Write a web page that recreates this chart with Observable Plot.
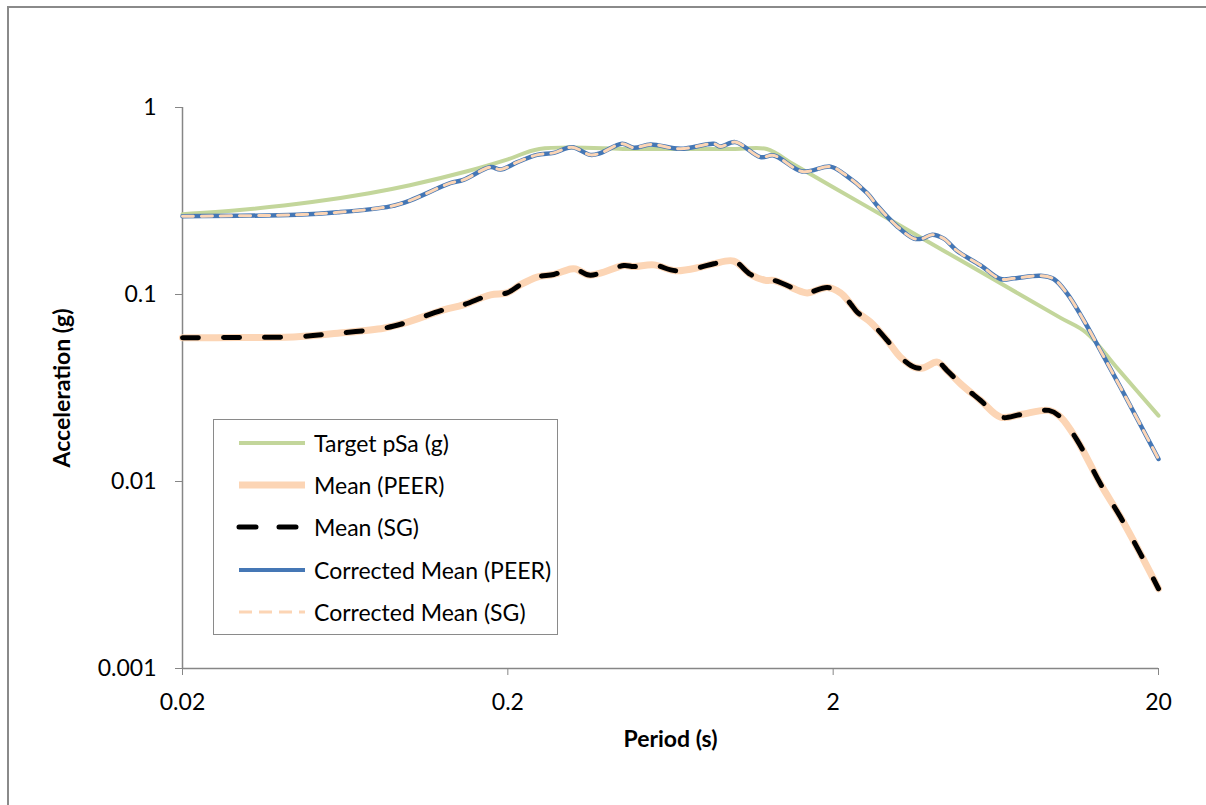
<!DOCTYPE html>
<html>
<head>
<meta charset="utf-8">
<script src="https://cdn.jsdelivr.net/npm/d3@7"></script>
<script src="https://cdn.jsdelivr.net/npm/@observablehq/plot@0.6"></script>
<style>
  html, body { margin: 0; padding: 0; background: #fff; overflow: hidden; }
  #wrap { position: relative; width: 1206px; height: 805px; font-family: Lato, "Open Sans", sans-serif; }
  #frame { position: absolute; left: 7px; top: 6px; width: 1300px; height: 900px; border-left: 2px solid #8a8a8a; border-top: 2px solid #8a8a8a; }
  #legend { position: absolute; left: 213px; top: 419px; width: 345px; height: 216px; border: 1.5px solid #8a8a8a; background: #fff; box-sizing: border-box; }
  .row { position: absolute; left: 22px; height: 30px; display: flex; align-items: center; }
  .row span { font-size: 23px; color: #000; margin-left: 6px; white-space: nowrap; }
  svg.sw { width: 72px; height: 12px; }
</style>
</head>
<body>
<div id="wrap">
  <div id="frame"></div>
  <div id="chart"></div>
  <div id="legend"></div>
</div>
<script>
// ---- Data ----
const targetPeriods = [0.02, 0.03, 0.05, 0.075, 0.1, 0.15, 0.2, 0.25, 0.5, 1.0, 1.25, 1.5, 2, 3, 4, 5, 7.5, 10, 12, 15, 20];
const targetPSa = [0.269, 0.283, 0.312, 0.348, 0.384, 0.456, 0.528, 0.6, 0.6, 0.6, 0.6, 0.5, 0.375, 0.25, 0.1875, 0.15, 0.1, 0.075, 0.0625, 0.04, 0.0225];

const meanPeriods = [0.02, 0.03, 0.045, 0.06, 0.083, 0.096, 0.127, 0.146, 0.177, 0.199, 0.219, 0.246, 0.277, 0.312, 0.323, 0.355, 0.385, 0.455, 0.488, 0.562, 0.655, 0.782, 0.859, 0.99, 1.114, 1.239, 1.314, 1.588, 1.665, 1.918, 2.106, 2.262, 2.372, 2.605, 2.932, 3.221, 3.582, 3.80, 4.18, 4.48, 4.93, 5.68, 6.54, 7.53, 9.2, 10.0, 11.25, 13.26, 15.28, 17.61, 20];
const meanPEER = [0.0587, 0.0589, 0.0595, 0.0621, 0.066, 0.0702, 0.0828, 0.088, 0.0996, 0.102, 0.113, 0.124, 0.128, 0.137, 0.137, 0.127, 0.13, 0.143, 0.141, 0.144, 0.134, 0.14, 0.146, 0.151, 0.128, 0.119, 0.119, 0.104, 0.102, 0.109, 0.102, 0.0892, 0.0804, 0.0711, 0.0568, 0.0462, 0.0406, 0.0406, 0.0435, 0.0392, 0.0333, 0.0271, 0.0221, 0.0228, 0.024, 0.0221, 0.0166, 0.00972, 0.00645, 0.0041, 0.00267];
const meanSG = [0.0587, 0.0589, 0.0595, 0.0621, 0.066, 0.0702, 0.0828, 0.088, 0.0996, 0.102, 0.113, 0.124, 0.128, 0.137, 0.137, 0.127, 0.13, 0.143, 0.141, 0.144, 0.134, 0.14, 0.146, 0.151, 0.128, 0.119, 0.119, 0.104, 0.102, 0.109, 0.102, 0.0892, 0.0804, 0.0711, 0.0568, 0.0462, 0.0406, 0.0406, 0.0435, 0.0392, 0.0333, 0.0271, 0.0221, 0.0228, 0.024, 0.0221, 0.0166, 0.00972, 0.00645, 0.0041, 0.00267];

const corrPeriods = [0.02, 0.045, 0.06, 0.087, 0.1, 0.133, 0.146, 0.177, 0.19, 0.214, 0.246, 0.277, 0.315, 0.359, 0.385, 0.449, 0.488, 0.549, 0.679, 0.859, 0.901, 1.0, 1.196, 1.314, 1.607, 1.962, 2.157, 2.546, 2.731, 3.148, 3.54, 3.756, 4.03, 4.376, 4.81, 5.68, 6.54, 7.19, 8.68, 9.53, 10.48, 11.79, 13.26, 15.28, 20];
const correctedPEER = [0.262, 0.267, 0.275, 0.296, 0.318, 0.394, 0.41, 0.48, 0.466, 0.51, 0.558, 0.572, 0.613, 0.558, 0.57, 0.64, 0.609, 0.634, 0.601, 0.64, 0.618, 0.653, 0.543, 0.554, 0.455, 0.483, 0.442, 0.348, 0.299, 0.231, 0.199, 0.199, 0.209, 0.199, 0.171, 0.143, 0.121, 0.122, 0.126, 0.121, 0.101, 0.0726, 0.0502, 0.0319, 0.0132];
const correctedSG = [0.262, 0.267, 0.275, 0.296, 0.318, 0.394, 0.41, 0.48, 0.466, 0.51, 0.558, 0.572, 0.613, 0.558, 0.57, 0.64, 0.609, 0.634, 0.601, 0.64, 0.618, 0.653, 0.543, 0.554, 0.455, 0.483, 0.442, 0.348, 0.299, 0.231, 0.199, 0.199, 0.209, 0.199, 0.171, 0.143, 0.121, 0.122, 0.126, 0.121, 0.101, 0.0726, 0.0502, 0.0319, 0.0132];

const xTicks = [0.02, 0.2, 2, 20];
const xTickLabels = ["0.02", "0.2", "2", "20"];
const yTicks = [0.001, 0.01, 0.1, 1];
const yTickLabels = ["0.001", "0.01", "0.1", "1"];

const seriesNames = ["Target pSa (g)", "Mean (PEER)", "Mean (SG)", "Corrected Mean (PEER)", "Corrected Mean (SG)"];

// ---- Styles ----
const styles = {
  "Target pSa (g)": {stroke: "#c3d69b", strokeWidth: 4},
  "Mean (PEER)": {stroke: "#fcd5b5", strokeWidth: 7},
  "Mean (SG)": {stroke: "#000000", strokeWidth: 5, strokeDasharray: "16,25", strokeLinecap: "round"},
  "Corrected Mean (PEER)": {stroke: "#4577b5", strokeWidth: 4.5},
  "Corrected Mean (SG)": {stroke: "#fcd5b5", strokeWidth: 3, strokeDasharray: "11,8"}
};

const toRows = (ps, vs) => ps.map((p, i) => ({period: p, value: vs[i]}));
const seriesData = {
  "Target pSa (g)": toRows(targetPeriods, targetPSa),
  "Mean (PEER)": toRows(meanPeriods, meanPEER),
  "Mean (SG)": toRows(meanPeriods, meanSG),
  "Corrected Mean (PEER)": toRows(corrPeriods, correctedPEER),
  "Corrected Mean (SG)": toRows(corrPeriods, correctedSG)
};

const axisColor = "#868686";
const xFmt = d => xTickLabels[xTicks.indexOf(d)];
const yFmt = d => yTickLabels[yTicks.indexOf(d)];

const chart = Plot.plot({
  width: 1206,
  height: 805,
  marginLeft: 182,
  marginRight: 48,
  marginTop: 107,
  marginBottom: 137,
  style: {fontFamily: "Lato, 'Open Sans', sans-serif", fontSize: "22px", background: "transparent", color: "#000"},
  x: {type: "log", domain: [0.02, 20]},
  y: {type: "log", domain: [0.001, 1]},
  marks: [
    Plot.ruleY([0.001], {stroke: axisColor, strokeWidth: 1.5}),
    Plot.ruleX([0.02], {stroke: axisColor, strokeWidth: 1.5}),
    Plot.axisX(xTicks, {tickFormat: xFmt, tickSize: 7, tickPadding: 18, stroke: axisColor, fill: "#000", fontSize: 23, label: null}),
    Plot.axisY(yTicks, {tickFormat: yFmt, tickSize: 7, tickPadding: 19, stroke: axisColor, fill: "#000", fontSize: 23, label: null}),
    ...seriesNames.map(name => Plot.line(seriesData[name], {x: "period", y: "value", curve: "catmull-rom", strokeLinejoin: "round", ...styles[name]})),
    Plot.text(["Period (s)"], {frameAnchor: "bottom", dy: 78, fontWeight: "bold", fontSize: 23, fill: "#000"}),
    Plot.text(["Acceleration (g)"], {frameAnchor: "left", textAnchor: "middle", dx: -120, rotate: -90, fontWeight: "bold", fontSize: 23, fill: "#000"})
  ]
});
document.getElementById("chart").appendChild(chart);

// ---- Legend ----
const legend = document.getElementById("legend");
const rowTops = [8, 50, 92, 135, 177];
seriesNames.forEach((name, i) => {
  const s = styles[name];
  const row = document.createElement("div");
  row.className = "row";
  row.style.top = rowTops[i] + "px";
  const dash = name === "Mean (SG)" ? "17,23" : (name === "Corrected Mean (SG)" ? "13,7" : "");
  row.innerHTML = `<svg class="sw" viewBox="0 0 72 12"><line x1="3" x2="69" y1="6" y2="6" stroke="${s.stroke}" stroke-width="${name === 'Corrected Mean (SG)' ? 3 : (name === 'Corrected Mean (PEER)' ? 4 : s.strokeWidth)}" ${dash ? `stroke-dasharray="${dash}"` : ""} stroke-linecap="${name === 'Mean (SG)' ? 'round' : 'butt'}"/></svg><span>${name}</span>`;
  legend.appendChild(row);
});
</script>
</body>
</html>
